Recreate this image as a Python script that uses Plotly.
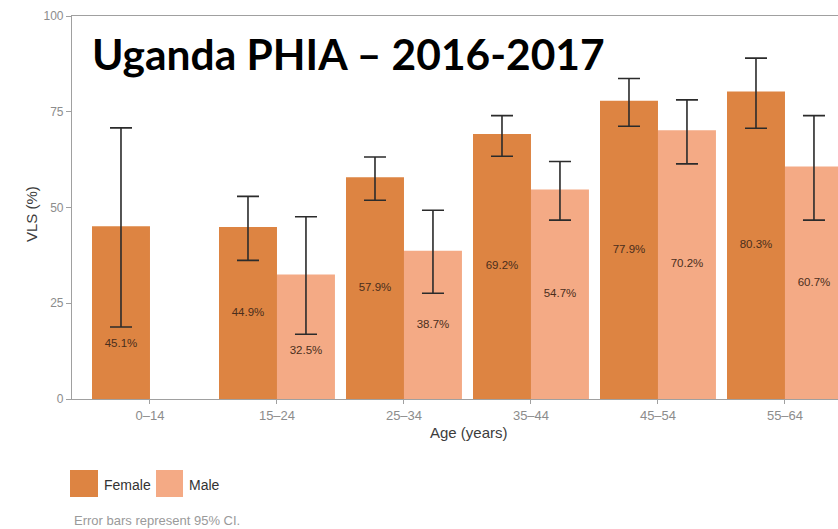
import plotly.graph_objects as go

# ---- data ----
age_groups = ["0–14", "15–24", "25–34", "35–44", "45–54", "55–64"]
female_vls = [45.1, 44.9, 57.9, 69.2, 77.9, 80.3]
male_vls = [None, 32.5, 38.7, 54.7, 70.2, 60.7]
female_ci_low = [18.8, 36.2, 51.9, 63.4, 71.2, 70.7]
female_ci_high = [70.8, 52.9, 63.2, 74.0, 83.7, 89.0]
male_ci_low = [None, 16.9, 27.6, 46.7, 61.4, 46.7]
male_ci_high = [None, 47.6, 49.3, 62.0, 78.1, 74.0]
y_ticks = [0, 25, 50, 75, 100]

FEMALE_COLOR = "#DD8442"
MALE_COLOR = "#F4AA85"
LABEL_COLOR = "#4a2e1c"
TICK_COLOR = "#8c8c8c"
AXIS_COLOR = "#a0a0a0"
TITLE_COLOR = "#3c3c3c"

W, H = 838, 529
ML, MR, MT, MB = 72, 0, 16, 130
BARGAP = 0.087
bar_w = (1 - BARGAP) / 2

x_idx = list(range(len(age_groups)))


def err_plus(vals, hi):
    return [None if v is None else h - v for v, h in zip(vals, hi)]


def err_minus(vals, lo):
    return [None if v is None else v - l for v, l in zip(vals, lo)]


def label_y(vals, lo):
    return [None if v is None else min(v / 2, l - 4.5) for v, l in zip(vals, lo)]


def pct(vals):
    return [None if v is None else f"{v:.1f}%" for v in vals]


fig = go.Figure()
err_style = dict(type="data", symmetric=False, color="#2b2b2b", thickness=1.6, width=11)

fig.add_trace(go.Bar(
    name="Female", x=x_idx, y=female_vls, marker_color=FEMALE_COLOR,
    marker_line_width=0,
    error_y=dict(array=err_plus(female_vls, female_ci_high),
                 arrayminus=err_minus(female_vls, female_ci_low), **err_style),
    showlegend=False,
))
fig.add_trace(go.Bar(
    name="Male", x=x_idx, y=male_vls, marker_color=MALE_COLOR,
    marker_line_width=0,
    error_y=dict(array=err_plus(male_vls, male_ci_high),
                 arrayminus=err_minus(male_vls, male_ci_low), **err_style),
    showlegend=False,
))

# value labels inside bars
label_font = dict(family="Liberation Sans, Arial", size=11.5, color=LABEL_COLOR)
fig.add_trace(go.Scatter(
    x=[i - bar_w / 2 for i in x_idx], y=label_y(female_vls, female_ci_low),
    text=pct(female_vls), mode="text", textfont=label_font,
    showlegend=False, hoverinfo="skip",
))
fig.add_trace(go.Scatter(
    x=[i + bar_w / 2 for i in x_idx], y=label_y(male_vls, male_ci_low),
    text=pct(male_vls), mode="text", textfont=label_font,
    showlegend=False, hoverinfo="skip",
))

plot_w = W - ML - MR
plot_h = H - MT - MB


def px_x(p):
    return (p - ML) / plot_w


def px_y(p):
    return (H - MB - p) / plot_h


# title
fig.add_annotation(
    text="<b>Uganda PHIA – 2016-2017</b>", xref="paper", yref="paper",
    x=px_x(90), y=px_y(53), xanchor="left", yanchor="middle", showarrow=False,
    font=dict(family="Lato", size=42.5, color="#000000"),
)

# axis titles
fig.add_annotation(
    text="Age (years)", xref="paper", yref="paper", x=px_x(469), y=px_y(432),
    xanchor="center", yanchor="middle", showarrow=False,
    font=dict(family="Liberation Sans, Arial", size=15, color=TITLE_COLOR),
)
fig.add_annotation(
    text="VLS (%)", xref="paper", yref="paper", x=px_x(32), y=px_y(214),
    xanchor="center", yanchor="middle", textangle=-90, showarrow=False,
    font=dict(family="Liberation Sans, Arial", size=15, color=TITLE_COLOR),
)

# legend (drawn)
for (x0, x1, col, lab, tx) in [(70, 98, FEMALE_COLOR, "Female", 102),
                               (156, 183, MALE_COLOR, "Male", 187)]:
    fig.add_shape(type="rect", xref="paper", yref="paper",
                  x0=px_x(x0), x1=px_x(x1), y0=px_y(497), y1=px_y(470),
                  fillcolor=col, line_width=0)
    fig.add_annotation(text=lab, xref="paper", yref="paper", x=px_x(tx), y=px_y(485),
                       xanchor="left", yanchor="middle", showarrow=False,
                       font=dict(family="Liberation Sans, Arial", size=14, color="#333333"))

fig.add_annotation(
    text="Error bars represent 95% CI.", xref="paper", yref="paper",
    x=px_x(72), y=px_y(520), xanchor="left", yanchor="middle", showarrow=False,
    font=dict(family="Liberation Sans, Arial", size=13, color="#9a9a9a"),
)

fig.update_layout(
    width=W, height=H, margin=dict(l=ML, r=MR, t=MT, b=MB, pad=0),
    paper_bgcolor="white", plot_bgcolor="white",
    barmode="group", bargap=BARGAP, bargroupgap=0,
    xaxis=dict(
        tickmode="array", tickvals=x_idx, ticktext=age_groups,
        range=[-0.614, -0.614 + plot_w / 127 * 1.0],
        showline=True, linecolor=AXIS_COLOR, linewidth=1.2, mirror=True,
        ticks="outside", ticklen=4, tickcolor=AXIS_COLOR,
        tickfont=dict(family="Liberation Sans, Arial", size=13, color=TICK_COLOR),
        showgrid=False, zeroline=False,
    ),
    yaxis=dict(
        range=[0, 100], tickmode="array", tickvals=y_ticks,
        showline=True, linecolor=AXIS_COLOR, linewidth=1.2,
        ticks="outside", ticklen=5, tickcolor=AXIS_COLOR,
        tickfont=dict(family="Liberation Sans, Arial", size=12, color=TICK_COLOR),
        showgrid=False, zeroline=False,
    ),
)

fig.write_html(
    "out.html",
    config={"displayModeBar": False},
    post_script="document.body.style.margin='0px';document.body.style.overflow='hidden';",
)
